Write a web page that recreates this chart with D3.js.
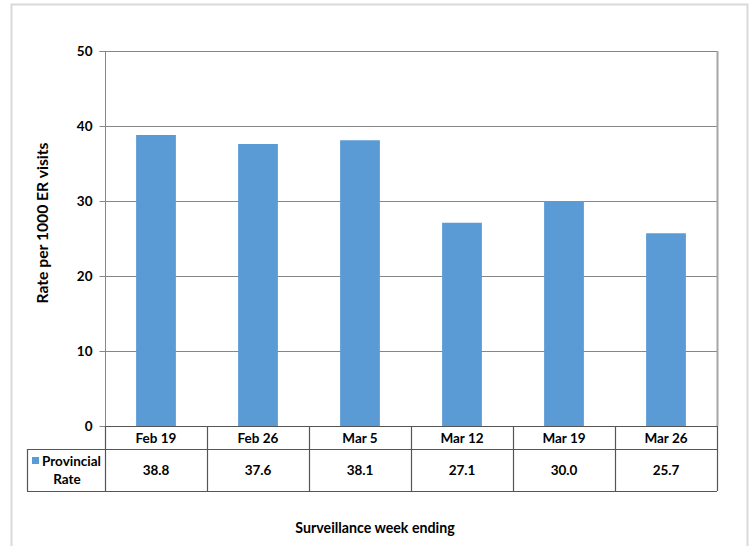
<!DOCTYPE html>
<html>
<head>
<meta charset="utf-8">
<script src="https://cdn.jsdelivr.net/npm/d3@7"></script>
<style>
  html, body { margin: 0; padding: 0; background: #fff; }
  svg { display: block; }
  text { font-family: Lato, "Open Sans", sans-serif; fill: #000; }
</style>
</head>
<body>
<svg id="chart" width="752" height="546"></svg>
<script>
// Weekly provincial rate per 1000 ER visits
const weeks = ["Feb 19", "Feb 26", "Mar 5", "Mar 12", "Mar 19", "Mar 26"];
const provincialRate = [38.8, 37.6, 38.1, 27.1, 30.0, 25.7];
const yTicks = [0, 10, 20, 30, 40, 50];
const seriesName = ["Provincial", "Rate"];

const svg = d3.select("#chart");
const barColor = "#5B9BD5";
const gridColor = "#868686";

// Frame around the whole chart
svg.append("rect")
  .attr("x", 11.5).attr("y", 4.5)
  .attr("width", 736).attr("height", 560)
  .attr("fill", "none").attr("stroke", "#d9d9d9").attr("stroke-width", 2);

const plot = { left: 105, right: 717, top: 51, bottom: 426 };
const tableRow1 = 449, tableRow2 = 491, legendLeft = 27;

const x = d3.scaleBand().domain(weeks).range([plot.left, plot.right]).paddingInner(0.61).paddingOuter(0.305);
const xCat = d3.scaleBand().domain(weeks).range([plot.left, plot.right]);
const y = d3.scaleLinear().domain([0, 50]).range([plot.bottom, plot.top]);

// Horizontal gridlines
svg.append("g").selectAll("line").data(yTicks.filter(d => d > 0)).join("line")
  .attr("x1", plot.left).attr("x2", plot.right)
  .attr("y1", d => Math.round(y(d)) + 0.5).attr("y2", d => Math.round(y(d)) + 0.5)
  .attr("stroke", gridColor).attr("stroke-width", 1);

// Right edge of plot area
svg.append("line")
  .attr("x1", plot.right + 0.5).attr("x2", plot.right + 0.5)
  .attr("y1", plot.top).attr("y2", plot.bottom)
  .attr("stroke", "#a6a6a6").attr("stroke-width", 2);

// Bars
svg.append("g").selectAll("rect").data(weeks).join("rect")
  .attr("x", d => x(d))
  .attr("y", (d, i) => y(provincialRate[i]))
  .attr("width", x.bandwidth())
  .attr("height", (d, i) => y(0) - y(provincialRate[i]))
  .attr("fill", barColor);

// Y axis
const yAxis = d3.axisLeft(y).tickValues(yTicks).tickSize(6).tickPadding(7).tickFormat(d3.format("d"));
const ya = svg.append("g").attr("transform", `translate(${plot.left + 0.5},0)`).call(yAxis);
ya.select(".domain").attr("stroke", gridColor).attr("d", `M-6,${plot.top + 0.5}H0V${plot.bottom + 0.5}`);
ya.selectAll(".tick line").attr("stroke", gridColor);
ya.selectAll(".tick text").attr("font-size", 13.5).attr("font-weight", "bold")
  .attr("font-family", "Lato, 'Open Sans', sans-serif").attr("fill", "#000");

// Data table
const t = svg.append("g").attr("stroke", "#555").attr("stroke-width", 1.2).attr("fill", "none");
t.append("line").attr("x1", plot.left).attr("x2", plot.right).attr("y1", plot.bottom + 0.5).attr("y2", plot.bottom + 0.5);
t.append("line").attr("x1", legendLeft).attr("x2", plot.right).attr("y1", tableRow1 + 0.5).attr("y2", tableRow1 + 0.5);
t.append("line").attr("x1", legendLeft).attr("x2", plot.right).attr("y1", tableRow2 + 0.5).attr("y2", tableRow2 + 0.5);
t.append("line").attr("x1", legendLeft + 0.5).attr("x2", legendLeft + 0.5).attr("y1", tableRow1).attr("y2", tableRow2);
t.selectAll(".vdiv").data(weeks).join("line").attr("class", "vdiv")
  .attr("x1", d => Math.round(xCat(d)) + 0.5).attr("x2", d => Math.round(xCat(d)) + 0.5)
  .attr("y1", plot.bottom).attr("y2", tableRow2);
t.append("line").attr("x1", plot.right + 0.5).attr("x2", plot.right + 0.5).attr("y1", plot.bottom).attr("y2", tableRow2);

svg.append("g").selectAll("text").data(weeks).join("text")
  .attr("x", d => xCat(d) + xCat.bandwidth() / 2)
  .attr("y", (plot.bottom + tableRow1) / 2 + 5)
  .attr("text-anchor", "middle").attr("font-size", 13.5).attr("font-weight", "bold")
  .text(d => d);

svg.append("g").selectAll("text").data(weeks).join("text")
  .attr("x", d => xCat(d) + xCat.bandwidth() / 2)
  .attr("y", (tableRow1 + tableRow2) / 2 + 5)
  .attr("text-anchor", "middle").attr("font-size", 13.5).attr("font-weight", "bold")
  .text((d, i) => provincialRate[i].toFixed(1));

// Legend key inside the table
svg.append("rect").attr("x", 32).attr("y", 457).attr("width", 7).attr("height", 7).attr("fill", barColor);
svg.append("text").attr("x", 42).attr("y", 466).attr("font-size", 13.5).attr("font-weight", "bold").text(seriesName[0]);
svg.append("text").attr("x", 67).attr("y", 484).attr("text-anchor", "middle").attr("font-size", 13.5).attr("font-weight", "bold").text(seriesName[1]);

// Axis titles
svg.append("text")
  .attr("transform", `translate(48,223) rotate(-90)`)
  .attr("text-anchor", "middle").attr("font-size", 15.7).attr("font-weight", "bold")
  .text("Rate per 1000 ER visits");

svg.append("text")
  .attr("x", 375).attr("y", 533)
  .attr("text-anchor", "middle").attr("font-size", 14.2).attr("font-weight", "bold")
  .text("Surveillance week ending");
</script>
</body>
</html>
